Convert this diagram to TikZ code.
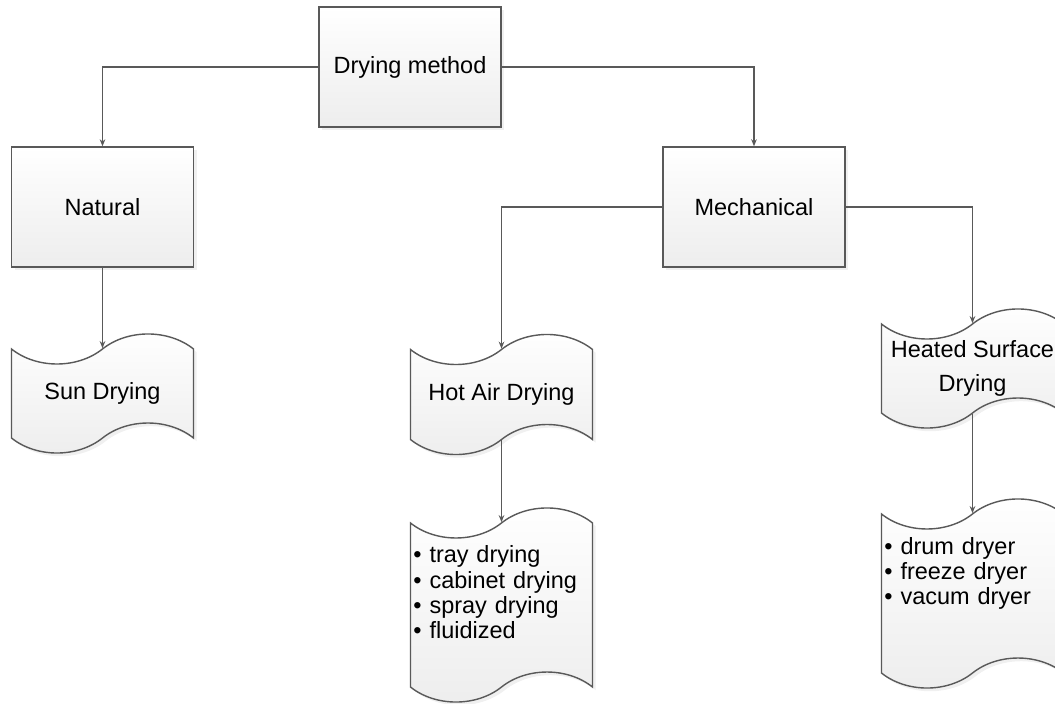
\documentclass[tikz,border=0pt]{standalone}
\usepackage{fontspec}
\setmainfont{Liberation Sans}
\usetikzlibrary{shapes.symbols,arrows.meta,shadows}
\begin{document}
\begin{tikzpicture}[x=0.025cm,y=-0.025cm,
    font=\fontsize{16.7}{18}\selectfont,
    box/.style={draw=black!65, line width=1pt, top color=white,
      bottom color=black!7, minimum width=4.55cm, minimum height=3cm,
      inner sep=0pt,
      drop shadow={opacity=0.12, shadow xshift=0.8mm, shadow yshift=-0.8mm}},
    paper/.style={box, shape=tape, tape bend top=in and out,
      tape bend bottom=in and out, tape bend height=0.75cm},
    link/.style={draw=black!65, line width=1pt,
      -{Stealth[length=5pt,width=4pt]}}]
    \useasboundingbox (0,0) rectangle (1055,704);

    % boxes
    \node[box] (method) at (410,67) {Drying method};
    \node[box] (natural) at (102.5,207) {Natural};
    \node[box] (mech) at (754,207) {Mechanical};

    % drying kinds
    \node[paper, minimum height=2.975cm] (sun) at (102.5,393.5) {Sun Drying};
    \node[paper, minimum height=3cm] (hotair) at (501.5,394.5) {Hot Air Drying};
    \node[paper, minimum height=2.975cm, align=center] (heated) at (972.5,368.5)
      {Heated Surface\\[0.22cm]Drying};

    % lists
    \node[paper, minimum height=4.85cm, text width=4.4cm, align=left] (hotlist)
      at (501.5,605) {\textbullet\ tray drying\\ \textbullet\ cabinet drying\\
      \textbullet\ spray drying\\ \textbullet\ fluidized\\ \mbox{}};
    \node[paper, minimum height=4.725cm, text width=4.4cm, align=left] (heatlist)
      at (972.5,593.5) {\textbullet\ drum dryer\\ \textbullet\ freeze dryer\\
      \textbullet\ vacum dryer\\[0.5cm] \mbox{}};

    % connectors
    \draw[link] (method.west) -| (natural.north);
    \draw[link] (method.east) -| (mech.north);
    \draw[link] (natural.south) -- (sun.north);
    \draw[link] (mech.west) -| (hotair.north);
    \draw[link] (mech.east) -| (heated.north);
    \draw[link] (hotair.south) -- (hotlist.north);
    \draw[link] (heated.south) -- (heatlist.north);
\end{tikzpicture}
\end{document}
